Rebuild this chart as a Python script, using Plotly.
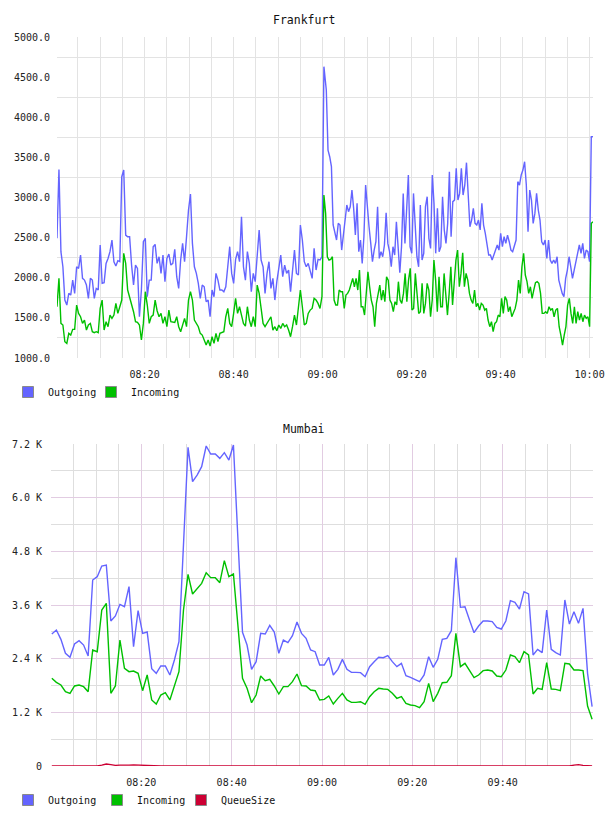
import plotly.graph_objects as go
import pandas as pd

DAY = "2024-01-01 "

# ---------------- Frankfurt (two stretches, split at the 09:00 spike) ----------------
FRA_TIME_A = ("08:00:19", "09:00:18")
FRA_OUT_TIME_B = ("09:00:50", "10:00:46")
FRA_IN_TIME_B = ("09:00:41", "10:00:46")

FRA_OUT_A = [2491, 3350, 2325, 2137, 1722, 1660, 1805, 1784, 1971, 1805, 2137, 2117, 2283, 1992, 1971, 1909,
             1743, 1992, 1971, 1743, 1867, 1847, 2408, 1930, 1938, 2179, 2241, 2325, 2470, 2200, 2146, 2212,
             2200, 3259, 3342, 2532, 2511, 2511, 2158, 1909, 2158, 2117, 1514, 1847, 2449, 2491, 1764, 1971,
             1971, 2387, 2416, 2179, 2262, 2054, 2283, 1951, 2241, 2295, 2158, 2179, 2354, 2013, 1867, 2221,
             2428, 2200, 2511, 2844, 3043, 2428, 2137, 2054, 1930, 1743, 1909, 1888, 1701, 1722, 1514, 1847,
             1764, 2054, 1971, 1847, 1847, 1826, 1888, 2179, 2387, 2054, 1930, 2229, 2325, 2200, 2761, 2137,
             1971, 2325, 2179, 1826, 2054, 1951, 2304, 2595, 2221, 2137, 1805, 2054, 2200, 1867, 1992, 1722,
             1951, 2096, 2283, 2013, 2158, 2054, 2096, 1826, 2117, 2345, 2054, 2034, 2657, 2470, 2200, 2137,
             2179, 2096, 1992, 2366, 2096, 2229, 2221, 2262, 4630]
FRA_IN_A = [1639, 1992, 1431, 1411, 1203, 1182, 1307, 1286, 1357, 1357, 1660, 1556, 1514, 1431, 1473, 1348,
            1411, 1431, 1328, 1315, 1328, 1315, 1618, 1722, 1348, 1452, 1390, 1535, 1494, 1535, 1680, 1556,
            1639, 1722, 2304, 2179, 1847, 1764, 1680, 1577, 1452, 1444, 1411, 1224, 1431, 1826, 1660, 1431,
            1514, 1535, 1722, 1589, 1514, 1556, 1431, 1514, 1390, 1597, 1452, 1444, 1444, 1514, 1390, 1328,
            1411, 1494, 1390, 1722, 1826, 1722, 1473, 1431, 1390, 1307, 1286, 1224, 1161, 1224, 1149, 1265,
            1182, 1307, 1203, 1307, 1315, 1328, 1514, 1618, 1431, 1390, 1556, 1743, 1556, 1639, 1535, 1431,
            1398, 1639, 1473, 1390, 1514, 1390, 1909, 1805, 1618, 1431, 1390, 1431, 1473, 1514, 1348, 1390,
            1340, 1411, 1369, 1431, 1390, 1411, 1348, 1265, 1390, 1535, 1411, 1639, 1847, 1639, 1411, 1431,
            1556, 1597, 1618, 1743, 1722, 1680, 1618, 1764, 3031]
FRA_OUT_B = [4339, 3591, 3508, 3384, 2657, 2574, 2470, 2678, 2657, 2345, 2532, 2657, 2906, 2823, 2885, 3093,
             2865, 2532, 2927, 2325, 2470, 2179, 2511, 3155, 2865, 2636, 2428, 2200, 2345, 2449, 2885, 2241,
             2325, 2262, 2408, 2810, 2428, 2325, 2137, 2387, 2283, 2698, 2387, 2063, 2387, 3051, 2428, 2865,
             3280, 2387, 2304, 3051, 2615, 2262, 2137, 2906, 2221, 2304, 2885, 3010, 2491, 2366, 3280, 2927,
             2304, 2865, 2325, 2387, 3010, 2595, 2428, 2678, 3321, 2511, 2948, 2968, 3363, 2968, 3051, 3363,
             3031, 3155, 3434, 2968, 2636, 2719, 2865, 2678, 2657, 2719, 2595, 2927, 2657, 2553, 2408, 2283,
             2283, 2221, 2283, 2345, 2408, 2345, 2553, 2387, 2511, 2428, 2532, 2449, 2345, 2325, 2387, 2470,
             3197, 3155, 3280, 3342, 3446, 3155, 2574, 3093, 2968, 2678, 2802, 3051, 2844, 2719, 2449, 2408,
             2470, 2241, 2470, 2221, 2179, 2221, 2179, 2262, 1971, 1888, 1805, 1764, 1992, 2096, 2262, 2137,
             1992, 2096, 2221, 2304, 2408, 2304, 2428, 2241, 2345, 2325, 2200, 3758, 3758]
FRA_IN_B = [2802, 2262, 2221, 2229, 2262, 1722, 1660, 1660, 1847, 1826, 1826, 1618, 1784, 1805, 1847, 1930,
            1992, 1888, 1992, 1847, 2096, 1639, 1639, 1535, 1847, 2075, 1888, 1722, 1639, 1390, 1680, 1805,
            1909, 1722, 1847, 1701, 2013, 1971, 1722, 1680, 1577, 1701, 1660, 1951, 1722, 1680, 1805, 2054,
            1701, 1971, 2117, 1597, 1618, 2054, 1805, 1556, 1577, 1930, 1556, 1680, 1930, 1847, 1514, 1722,
            2221, 1971, 1577, 2013, 1639, 1639, 2054, 1805, 1535, 1805, 2137, 1660, 2013, 2221, 2345, 1888,
            2054, 2312, 1888, 2054, 1971, 1805, 1722, 1680, 1847, 1639, 1680, 1597, 1680, 1660, 1597, 1618,
            1473, 1390, 1452, 1328, 1431, 1452, 1535, 1514, 1743, 1556, 1764, 1722, 1577, 1639, 1514, 1556,
            1618, 1722, 1971, 1805, 2137, 2304, 2034, 1951, 1805, 1888, 1743, 1847, 1938, 1951, 1930, 1805,
            1556, 1556, 1577, 1556, 1639, 1597, 1618, 1514, 1597, 1618, 1390, 1286, 1161, 1286, 1390, 1660,
            1743, 1556, 1431, 1639, 1431, 1577, 1473, 1556, 1452, 1535, 1494, 1514, 1390, 2678, 2698]

FRA_YTICKS = [1000, 1500, 2000, 2500, 3000, 3500, 4000, 4500, 5000]
FRA_YLABELS = ["1000.0", "1500.0", "2000.0", "2500.0", "3000.0", "3500.0", "4000.0", "4500.0", "5000.0"]
FRA_XTICKS = ["08:20", "08:40", "09:00", "09:20", "09:40", "10:00"]

# ---------------- Mumbai (one sample per minute) ----------------
MUM_TIME = ("08:00:11", "09:59:48")
MUM_OUT = [2951, 3040, 2832, 2519, 2430, 2728, 2802, 2705, 2460, 4159, 4233, 4472, 4494, 3242, 3354, 3614,
           3562, 4010, 2668, 3473, 2966, 2996, 2176, 2072, 2236, 2236, 2035, 2370, 2780, 5090, 7125, 6357,
           6506, 6693, 7155, 6976, 6976, 6879, 7006, 6842, 7178, 5053, 2989, 2705, 2161, 2333, 2966, 2951,
           3145, 2996, 2519, 2817, 2758, 2914, 3220, 2966, 2854, 2594, 2556, 2258,
           2258, 2430, 2035, 2161, 2385, 2161, 2094, 2094, 2087, 1997, 2221, 2333, 2430, 2422, 2467, 2333,
           2221, 2296, 2020, 1982, 1938, 1886, 2035, 2445, 2206, 2385, 2832, 2854, 3026, 4658, 3548, 3562,
           3265, 2981, 3130, 3242, 3242, 3227, 3101, 3063, 3242, 3697, 3659, 3510, 3898, 3846, 2482, 2608,
           2534, 3488, 2608, 2534, 2482, 3712, 3175, 3451, 3190, 3525, 2072, 1327]
MUM_IN = [1960, 1871, 1811, 1662, 1625, 1789, 1811, 1774, 1662, 2594, 2556, 3488, 3637, 1625, 1789, 2817,
          2184, 2109, 2124, 2072, 1684, 2035, 1476, 1386, 1587, 1640, 1476, 1789, 2109, 3488, 4285, 3846,
          3972, 4084, 4323, 4211, 4211, 4099, 4591, 4233, 4293, 3115, 1960, 1737, 1416, 1587, 2012, 1908,
          1938, 1789, 1610, 1774, 1774, 1886, 2057, 1796, 1789, 1699, 1684, 1476,
          1490, 1565, 1386, 1513, 1625, 1476, 1423, 1423, 1438, 1379, 1550, 1662, 1737, 1722, 1714, 1625,
          1513, 1550, 1401, 1364, 1349, 1304, 1438, 1848, 1438, 1625, 1863, 1871, 2020, 2966, 2221, 2296,
          2146, 1975, 2035, 2132, 2146, 2124, 2012, 1997, 2146, 2482, 2445, 2310, 2556, 2482, 1610, 1737,
          1714, 2310, 1722, 1714, 1684, 2296, 2281, 2146, 2146, 2132, 1341, 1043]
MUM_QUEUE = [0, 0, 0, 0, 0, 0, 0, 0, 0, 0, 0, 20, 45, 30, 15, 20, 15, 20, 25, 20,
             5, 0, 0, 0, 0, 0, 0, 0, 0, 0, 0, 0, 0, 0, 0, 0, 0, 0, 0, 5,
             10, 5, 0, 0, 0, 0, 5, 10, 10, 5, 0, 0, 0, 0, 0, 0, 0, 0, 0, 0,
             0, 0, 0, 0, 0, 0, 0, 0, 0, 0, 0, 0, 0, 0, 0, 0, 0, 0, 0, 0,
             0, 0, 0, 0, 10, 5, 0, 0, 0, 0, 0, 0, 0, 0, 0, 0, 0, 0, 0, 0,
             0, 0, 0, 0, 0, 0, 0, 0, 0, 0, 0, 0, 0, 0, 0, 20, 30, 15, 0, 0]

MUM_YTICKS = [0, 1200, 2400, 3600, 4800, 6000, 7200]
MUM_YLABELS = ["0", "1.2 K", "2.4 K", "3.6 K", "4.8 K", "6.0 K", "7.2 K"]
MUM_XTICKS = ["08:00", "08:20", "08:40", "09:00", "09:20", "09:40", "10:00"]
MUM_XLABELS = ["", "08:20", "08:40", "09:00", "09:20", "09:40", ""]

C_OUT, C_IN, C_Q = "#6464ff", "#00c000", "#cc0033"
MONO = "DejaVu Sans Mono"
W, H = 608, 816


def rng(a, b, n):
    return pd.date_range(DAY + a, DAY + b, periods=n)


fra_ta = rng(*FRA_TIME_A, len(FRA_OUT_A))
fra_out_tb = rng(*FRA_OUT_TIME_B, len(FRA_OUT_B))
fra_in_tb = rng(*FRA_IN_TIME_B, len(FRA_IN_B))
mum_t = rng(*MUM_TIME, len(MUM_OUT))

fig = go.Figure()
lw = 1.4

# Frankfurt lines
fig.add_trace(go.Scatter(x=list(fra_ta) + list(fra_out_tb), y=FRA_OUT_A + FRA_OUT_B, mode="lines",
                         line=dict(color=C_OUT, width=lw), showlegend=False, xaxis="x", yaxis="y"))
fig.add_trace(go.Scatter(x=list(fra_ta) + list(fra_in_tb), y=FRA_IN_A + FRA_IN_B, mode="lines",
                         line=dict(color=C_IN, width=lw), showlegend=False, xaxis="x", yaxis="y"))
# Mumbai lines
fig.add_trace(go.Scatter(x=mum_t, y=MUM_OUT, mode="lines", line=dict(color=C_OUT, width=lw),
                         showlegend=False, xaxis="x2", yaxis="y2"))
fig.add_trace(go.Scatter(x=mum_t, y=MUM_IN, mode="lines", line=dict(color=C_IN, width=lw),
                         showlegend=False, xaxis="x2", yaxis="y2"))
fig.add_trace(go.Scatter(x=mum_t, y=MUM_QUEUE, mode="lines", line=dict(color=C_Q, width=lw),
                         showlegend=False, xaxis="x2", yaxis="y2"))


# legend entries (square swatches)
def swatch(name, color, legend, xa, ya, lwidth):
    fig.add_trace(go.Scatter(x=[None], y=[None], mode="markers", name=name, legend=legend,
                             legendwidth=lwidth,
                             marker=dict(symbol="square", size=11, color=color,
                                         line=dict(color="#8a8a8a", width=1)),
                             xaxis=xa, yaxis=ya))


swatch("Outgoing", C_OUT, "legend", "x", "y", 38)
swatch("Incoming", C_IN, "legend", "x", "y", 60)
swatch("Outgoing", C_OUT, "legend2", "x2", "y2", 44)
swatch("Incoming", C_IN, "legend2", "x2", "y2", 39)
swatch("QueueSize", C_Q, "legend2", "x2", "y2", 66)

tickfont = dict(family=MONO, size=10, color="#222")
GRID_TOP = "#e3e3e3"
GRID_MAJ = "#e2cce2"
GRID_MIN = "#dedede"

fig.update_layout(
    width=W, height=H, autosize=False,
    margin=dict(l=0, r=0, t=0, b=0, pad=0),
    paper_bgcolor="white", plot_bgcolor="white",
    xaxis=dict(domain=[57 / W, 593 / W], anchor="y", type="date", automargin=False,
               range=[DAY + FRA_TIME_A[0], DAY + FRA_OUT_TIME_B[1]],
               tickmode="array", tickvals=[DAY + t for t in FRA_XTICKS], ticktext=FRA_XTICKS,
               showgrid=True, gridcolor=GRID_TOP, gridwidth=1, zeroline=False, showline=False,
               ticks="", ticklabelstandoff=9, tickfont=tickfont,
               minor=dict(dtick=300000, tick0=DAY + "08:00", showgrid=True, gridcolor=GRID_TOP, gridwidth=1)),
    yaxis=dict(domain=[1 - 358 / H, 1 - 37 / H], anchor="x", range=[1000, 5000], automargin=False,
               tickmode="array", tickvals=FRA_YTICKS, ticktext=FRA_YLABELS,
               showgrid=False, zeroline=False, showline=False, ticks="", ticklabelstandoff=6,
               tickfont=tickfont,
               minor=dict(tick0=1250, dtick=500, showgrid=True, gridcolor=GRID_TOP, gridwidth=1)),
    xaxis2=dict(domain=[51 / W, 593 / W], anchor="y2", type="date", automargin=False,
                range=[DAY + "08:00", DAY + "10:00"],
                tickmode="array", tickvals=[DAY + t for t in MUM_XTICKS], ticktext=MUM_XLABELS,
                showgrid=True, gridcolor=GRID_MAJ, gridwidth=1, zeroline=False, showline=False,
                ticks="", ticklabelstandoff=9, tickfont=tickfont,
                minor=dict(dtick=300000, tick0=DAY + "08:00", showgrid=True, gridcolor=GRID_MIN, gridwidth=1)),
    yaxis2=dict(domain=[1 - 766 / H, 1 - 444 / H], anchor="x2", range=[0, 7200], automargin=False,
                tickmode="array", tickvals=MUM_YTICKS, ticktext=MUM_YLABELS,
                showgrid=True, gridcolor=GRID_MAJ, gridwidth=1, zeroline=False, showline=False,
                ticks="", ticklabelstandoff=8, tickfont=tickfont,
                minor=dict(tick0=600, dtick=1200, showgrid=True, gridcolor=GRID_MIN, gridwidth=1)),
    legend=dict(orientation="h", x=8 / W, xanchor="left", y=1 - 392 / H, yanchor="middle",
                font=dict(family=MONO, size=10, color="#111"), bgcolor="rgba(0,0,0,0)",
                entrywidthmode="pixels", itemclick=False, itemdoubleclick=False),
    legend2=dict(orientation="h", x=8 / W, xanchor="left", y=1 - 800 / H, yanchor="middle",
                 font=dict(family=MONO, size=10, color="#111"), bgcolor="rgba(0,0,0,0)",
                 entrywidthmode="pixels", itemclick=False, itemdoubleclick=False),
    annotations=[
        dict(text="Frankfurt", x=0.5, y=1 - 20 / H, xref="paper", yref="paper", showarrow=False,
             xanchor="center", yanchor="middle", font=dict(family=MONO, size=11.5, color="#111")),
        dict(text="Mumbai", x=0.5, y=1 - 429 / H, xref="paper", yref="paper", showarrow=False,
             xanchor="center", yanchor="middle", font=dict(family=MONO, size=11.5, color="#111")),
    ],
)

fig.write_html("out.html")
